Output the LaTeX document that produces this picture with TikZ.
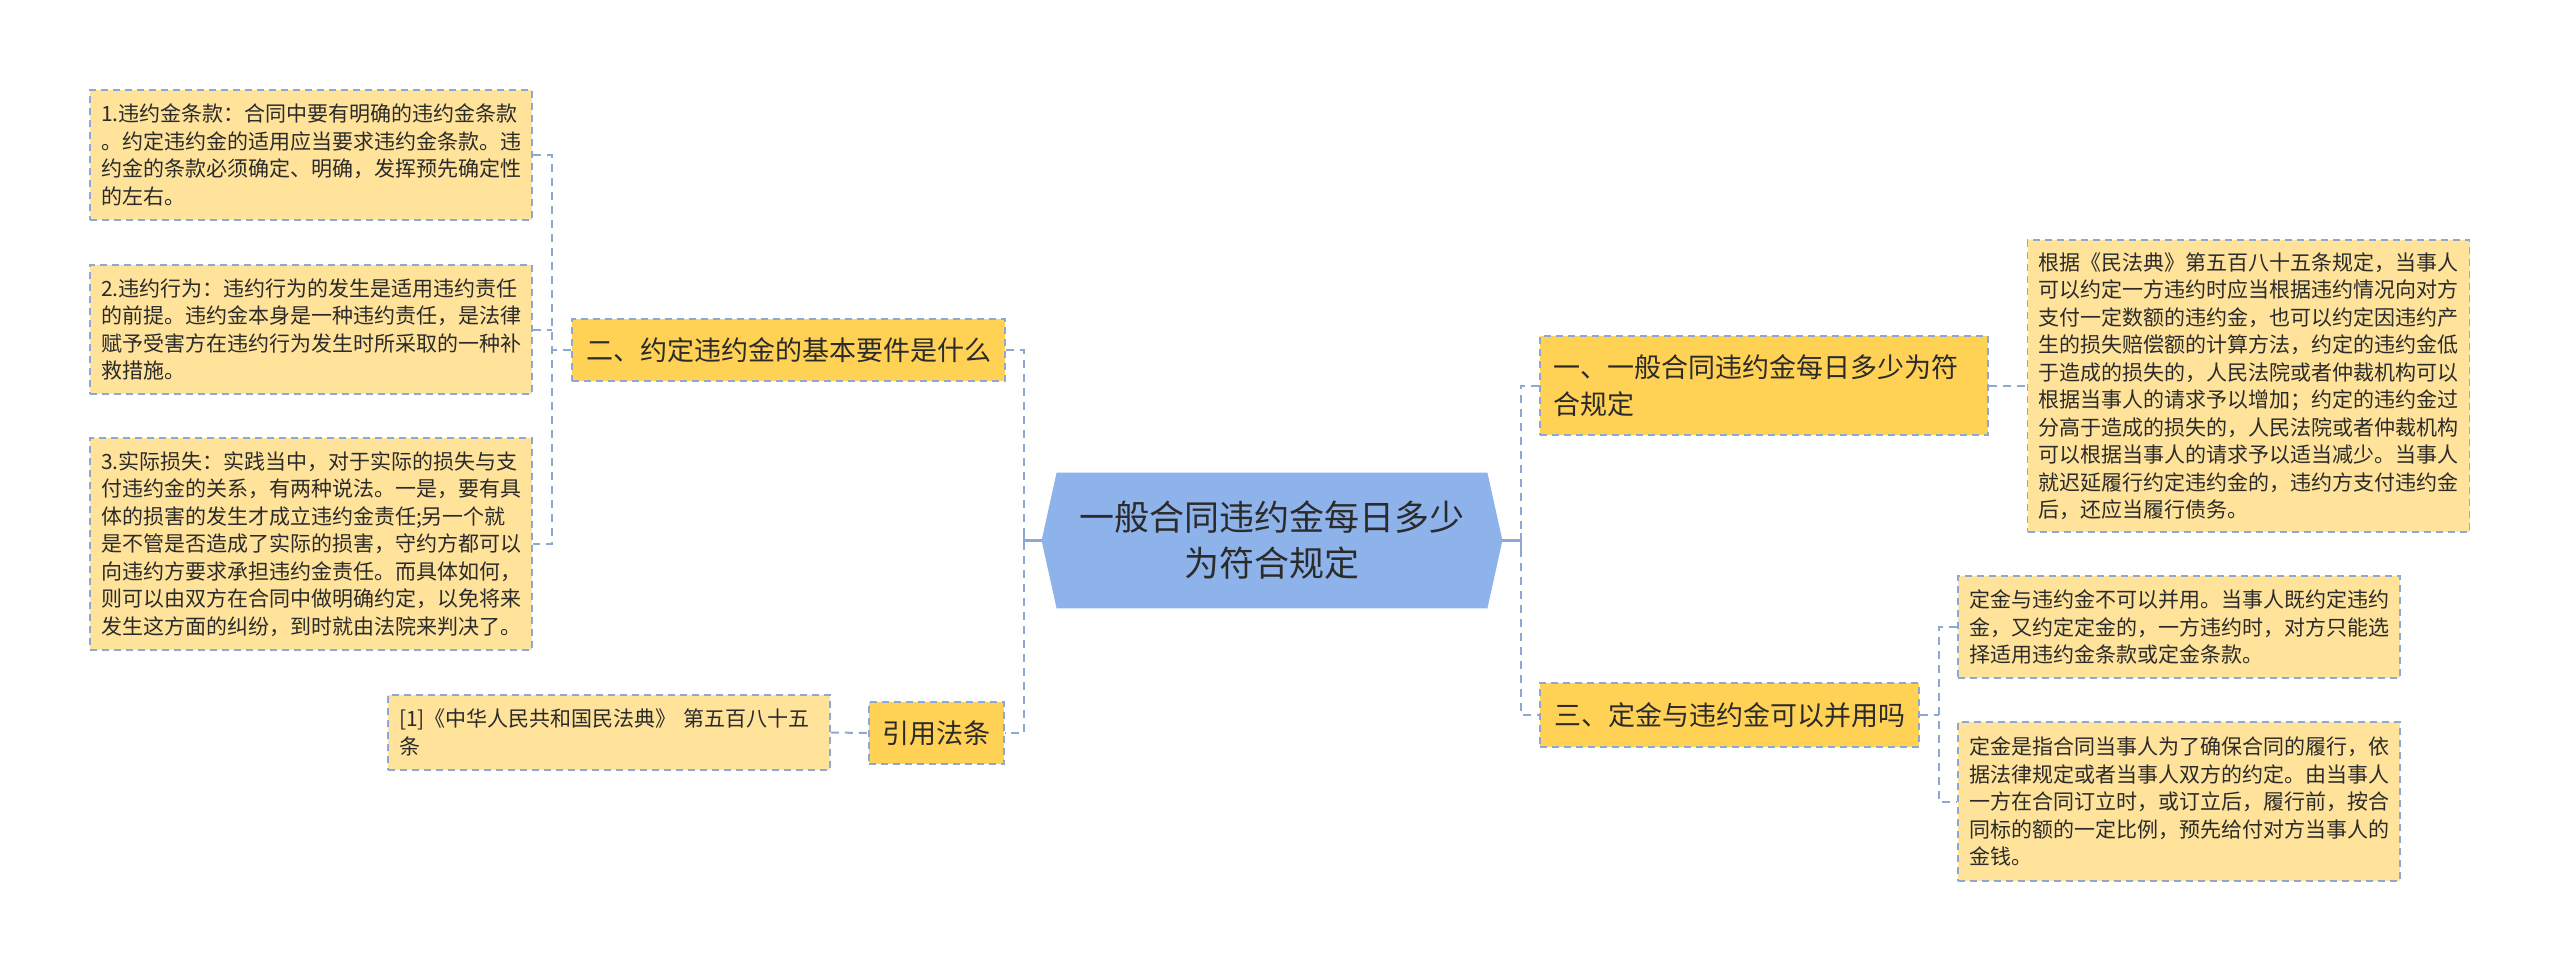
\documentclass[tikz,border=0pt]{standalone}
\usepackage{fontspec}
\setmainfont{Noto Sans CJK SC}
\usetikzlibrary{backgrounds}
\definecolor{hexcol}{HTML}{8EB2EA}
\definecolor{branchcol}{HTML}{FFD154}
\definecolor{leafcol}{HTML}{FFE39B}
\definecolor{bordcol}{HTML}{8EA8D4}
\definecolor{txtcol}{HTML}{2B2B2B}
\tikzset{
  box/.style={draw=bordcol, line width=0.9pt, dash pattern=on 3.5pt off 2.5pt, text=txtcol, inner ysep=0pt, anchor=center},
  leaf/.style={box, fill=leafcol, font=\fontsize{10.5pt}{13.75pt}\selectfont, align=left, inner xsep=5.5pt, text width=210pt},
  branch/.style={box, fill=branchcol, font=\fontsize{13.5pt}{18.5pt}\selectfont, align=center, inner xsep=0pt},
  conn/.style={draw=bordcol, line width=1pt, dash pattern=on 4pt off 3pt},
  stub/.style={draw=bordcol, line width=1.3pt},
  hexnode/.style={text=txtcol, font=\fontsize{17.5pt}{23pt}\selectfont, align=center, inner sep=0pt, minimum width=215pt, minimum height=67.5pt},
}
\begin{document}
\begin{tikzpicture}[x=0.5pt,y=-0.5pt]
\useasboundingbox (0,0) rectangle (2560,971);

% center
\node[hexnode] (cen) at (1272,540.5) {一般合同违约金每日多少\\为符合规定};
\coordinate (cw) at ([xshift=-7.5pt]cen.west);
\coordinate (ce) at ([xshift=7.5pt]cen.east);

% left side
\node[leaf, minimum height=65pt] (n1) at (311,155) {1.违约金条款：合同中要有明确的违约金条款\\。约定违约金的适用应当要求违约金条款。违\\约金的条款必须确定、明确，发挥预先确定性\\的左右。};
\node[leaf, minimum height=64.5pt] (n2) at (311,329.5) {2.违约行为：违约行为的发生是适用违约责任\\的前提。违约金本身是一种违约责任，是法律\\赋予受害方在违约行为发生时所采取的一种补\\救措施。};
\node[leaf, minimum height=106pt] (n3) at (311,544) {3.实际损失：实践当中，对于实际的损失与支\\付违约金的关系，有两种说法。一是，要有具\\体的损害的发生才成立违约金责任;另一个就\\是不管是否造成了实际的损害，守约方都可以\\向违约方要求承担违约金责任。而具体如何，\\则可以由双方在合同中做明确约定，以免将来\\发生这方面的纠纷，到时就由法院来判决了。};
\node[branch, minimum width=216.5pt, minimum height=31pt] (b2) at (788.5,350) {二、约定违约金的基本要件是什么};
\node[branch, minimum width=67.5pt, minimum height=31pt] (ref) at (936.5,733) {引用法条};
\node[leaf, minimum height=37.5pt] (r1) at (609,732.5) {[1]《中华人民共和国民法典》 第五百八十五\\条};

% right side
\node[branch, align=left, inner xsep=6.5pt, text width=211pt, minimum height=49.5pt] (b1) at (1764,385.5) {一、一般合同违约金每日多少为符\\合规定};
\node[branch, minimum width=189.5pt, minimum height=32pt] (b3) at (1729.5,715) {三、定金与违约金可以并用吗};
\node[leaf, minimum height=146pt] (rt) at (2248.5,386) {根据《民法典》第五百八十五条规定，当事人\\可以约定一方违约时应当根据违约情况向对方\\支付一定数额的违约金，也可以约定因违约产\\生的损失赔偿额的计算方法，约定的违约金低\\于造成的损失的，人民法院或者仲裁机构可以\\根据当事人的请求予以增加；约定的违约金过\\分高于造成的损失的，人民法院或者仲裁机构\\可以根据当事人的请求予以适当减少。当事人\\就迟延履行约定违约金的，违约方支付违约金\\后，还应当履行债务。};
\node[leaf, minimum height=51pt] (d1) at (2179,627) {定金与违约金不可以并用。当事人既约定违约\\金，又约定定金的，一方违约时，对方只能选\\择适用违约金条款或定金条款。};
\node[leaf, minimum height=79.5pt] (d2) at (2179,801.5) {定金是指合同当事人为了确保合同的履行，依\\据法律规定或者当事人双方的约定。由当事人\\一方在合同订立时，或订立后，履行前，按合\\同标的额的一定比例，预先给付对方当事人的\\金钱。};

% trunks
\coordinate (lt) at (1024,540.5);
\coordinate (ls) at (552,350);
\coordinate (rk) at (1521,540.5);
\coordinate (rs) at (1939,715);

% connectors
\draw[conn] (b2.east) -| (lt) |- (ref.east);
\draw[stub] (cw) -- (lt);
\draw[stub] ([yshift=-4pt]lt) -- ([yshift=4pt]lt);
\draw[conn] (b2.west) -- (ls);
\draw[conn] (n1.east) -| (ls) |- (n3.east);
\draw[conn] (n2.east) -- (n2.east -| ls);
\draw[conn] (r1.east) -- (ref.west);

\draw[conn] (b1.west) -| (rk) |- (b3.west);
\draw[stub] (ce) -- (rk);
\draw[stub] ([yshift=-4pt]rk) -- ([yshift=4pt]rk);
\draw[conn] (b1.east) -- (b1.east -| rt.west);
\draw[conn] (b3.east) -- (rs);
\draw[conn] (d1.west) -| (rs) |- (d2.west);

\begin{scope}[on background layer]
\fill[white] (0,0) rectangle (2560,971);
\fill[hexcol] (cen.north west) -- (cen.north east) -- (ce) -- (cen.south east) -- (cen.south west) -- (cw) -- cycle;
\end{scope}
\end{tikzpicture}
\end{document}
